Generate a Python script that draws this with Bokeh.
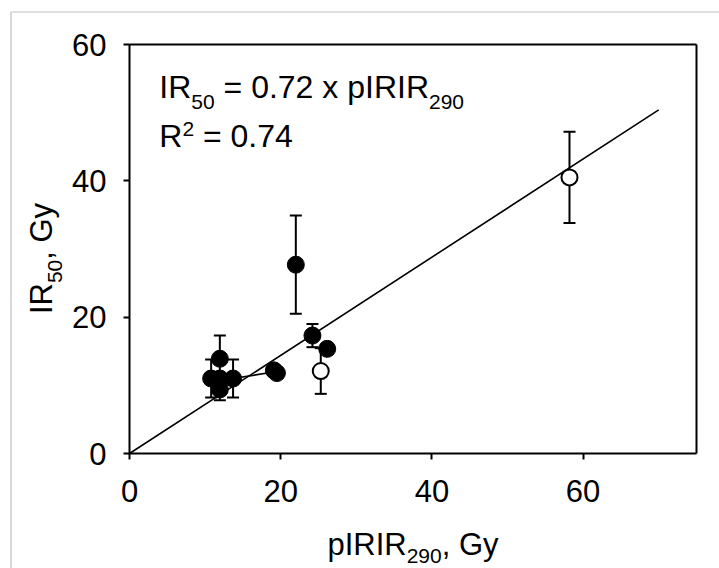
import math
from bokeh.plotting import figure
from bokeh.models import Range1d, FixedTicker, Label, BoxAnnotation, LinearAxis
from bokeh.embed import file_html
from bokeh.resources import INLINE

# ---------------- data ----------------
filled_x = [22.0, 24.2, 26.15, 19.1, 19.5, 11.95, 10.8, 11.95, 13.7, 11.95]
filled_y = [27.7, 17.3, 15.35, 12.2, 11.8, 13.9, 11.0, 11.0, 11.0, 9.4]
filled_err = [7.2, 1.7, 0.0, 0.0, 0.0, 3.4, 2.8, 0.0, 2.8, 1.6]
open_x = [58.2, 25.3]
open_y = [40.5, 12.1]
open_err = [6.7, 3.35]
link_x = [13.7, 19.3]
link_y = [11.0, 12.0]
fit_x = [0, 70]
fit_y = [0, 50.4]
slope_text = "0.72"
r2_text = "0.74"
x_ticks = [0, 20, 40, 60]
y_ticks = [0, 20, 40, 60]
x_lim = (0, 75)
y_lim = (0, 60)

# ---------------- layout (pixels) ----------------
W, H = 719, 568
L, R, T, B = 129, 23, 44, 115          # plot box edges inside the canvas
FW, FH = W - L - R, H - T - B
FONT = "Liberation Sans"
sx = (x_lim[1] - x_lim[0]) / FW        # data units per pixel
sy = (y_lim[1] - y_lim[0]) / FH

p = figure(width=W, height=H, output_backend="svg", toolbar_location=None,
           x_range=Range1d(x_lim[0] - L * sx, x_lim[1] + R * sx),
           y_range=Range1d(y_lim[0] - B * sy, y_lim[1] + T * sy),
           x_axis_location=None, y_axis_location=None,
           min_border_left=0, min_border_right=0, min_border_top=0, min_border_bottom=0)
p.title.visible = False
p.background_fill_color = "white"
p.border_fill_color = "white"
p.outline_line_color = None
p.grid.visible = False

def make_axis(ticks, loc, show):
    ax = LinearAxis(fixed_location=loc, ticker=FixedTicker(ticks=ticks if show else []))
    ax.axis_line_color = "black"
    ax.axis_line_width = 2
    ax.major_tick_line_color = "black"
    ax.major_tick_line_width = 2
    ax.major_tick_out = 6 if show else 0
    ax.major_tick_in = 0
    ax.minor_tick_out = 0
    ax.minor_tick_in = 0
    ax.major_label_text_font = FONT
    ax.major_label_text_font_size = "31px"
    ax.major_label_text_color = "black"
    return ax

xax = make_axis(x_ticks, y_lim[0], True); xax.bounds = x_lim; xax.major_label_standoff = 20
yax = make_axis(y_ticks, x_lim[0], True); yax.bounds = y_lim; yax.major_label_standoff = 17
tax = make_axis([], y_lim[1], False); tax.bounds = x_lim
rax = make_axis([], x_lim[1], False); rax.bounds = y_lim
p.add_layout(xax, "below")
p.add_layout(yax, "left")
p.add_layout(tax, "above")
p.add_layout(rax, "right")

# outer frame of the picture (left/top edges visible)
p.add_layout(BoxAnnotation(left=x_lim[0] - (L - 10.5) * sx, right=x_lim[1] + 300 * sx,
                           top=y_lim[1] + (T - 11.5) * sy, bottom=y_lim[0] - 300 * sy,
                           fill_alpha=0, line_color="#333333", line_width=1.2))

# ---------------- marks ----------------
p.line(fit_x, fit_y, line_color="black", line_width=1.6)
p.line(link_x, link_y, line_color="black", line_width=1.6)

ex, elo, ehi = [], [], []
for xs, ys, es in ((filled_x, filled_y, filled_err), (open_x, open_y, open_err)):
    for xv, yv, ev in zip(xs, ys, es):
        if ev > 0:
            ex.append(xv); elo.append(yv - ev); ehi.append(yv + ev)
p.segment(ex, elo, ex, ehi, line_color="black", line_width=2)
p.scatter(ex + ex, elo + ehi, marker="dash", size=12, line_color="black", line_width=2)

p.scatter(filled_x, filled_y, marker="circle", size=17, fill_color="black", line_color="black", line_width=1)
p.scatter(open_x, open_y, marker="circle", size=16, fill_color="white", line_color="black", line_width=2)

# ---------------- rich text helpers ----------------
ADV = {' ': 278, ',': 278, '.': 278, '=': 584, 'G': 778, 'I': 278, 'R': 722,
       'p': 556, 'x': 500, 'y': 500}
K = 0.39   # empirical baseline correction (fraction of font size)

def tw(s, size):
    return sum(ADV.get(c, 556) for c in s) * size / 1000.0

def rich(pieces, x0, y0, angle=0.0):
    pos = 0.0
    for txt, size, shift in pieces:
        stripped = txt.lstrip(" ")
        pos += tw(txt[:len(txt) - len(stripped)], size)
        s = shift - K * size
        if angle == 0.0:
            xo, yo = x0 + pos, y0 - s
        else:
            xo, yo = x0 + s, y0 + pos
        p.add_layout(Label(x=x_lim[0], y=y_lim[0], x_offset=xo, y_offset=yo, text=stripped,
                           angle=angle, text_font=FONT, text_font_size=f"{size}px",
                           text_color="black", text_align="left", text_baseline="alphabetic"))
        pos += tw(stripped, size)

def total(pieces):
    return sum(tw(t, s) for t, s, _ in pieces)

M, S = 32, 21
eq1 = [("IR", M, 0), ("50", S, 10), (" = " + slope_text + " x pIRIR", M, 0), ("290", S, 10)]
eq2 = [("R", M, 0), ("2", S, -11.6), (" = " + r2_text, M, 0)]
rich(eq1, 29.8, FH + T - 99.3)
rich(eq2, 29.8, FH + T - 148.3)

AM, AS = 31, 21
xt = [("pIRIR", AM, 0), ("290", AS, 7), (", Gy", AM, 0)]
rich(xt, FW / 2 - total(xt) / 2, (FH + T) - 556.5)
yt = [("IR", AM, 0), ("50", AS, 9), (", Gy", AM, 0)]
rich(yt, 53.3 - L, 195 - total(yt) / 2, angle=math.pi / 2)

open("out.html", "w").write(file_html(p, INLINE))
